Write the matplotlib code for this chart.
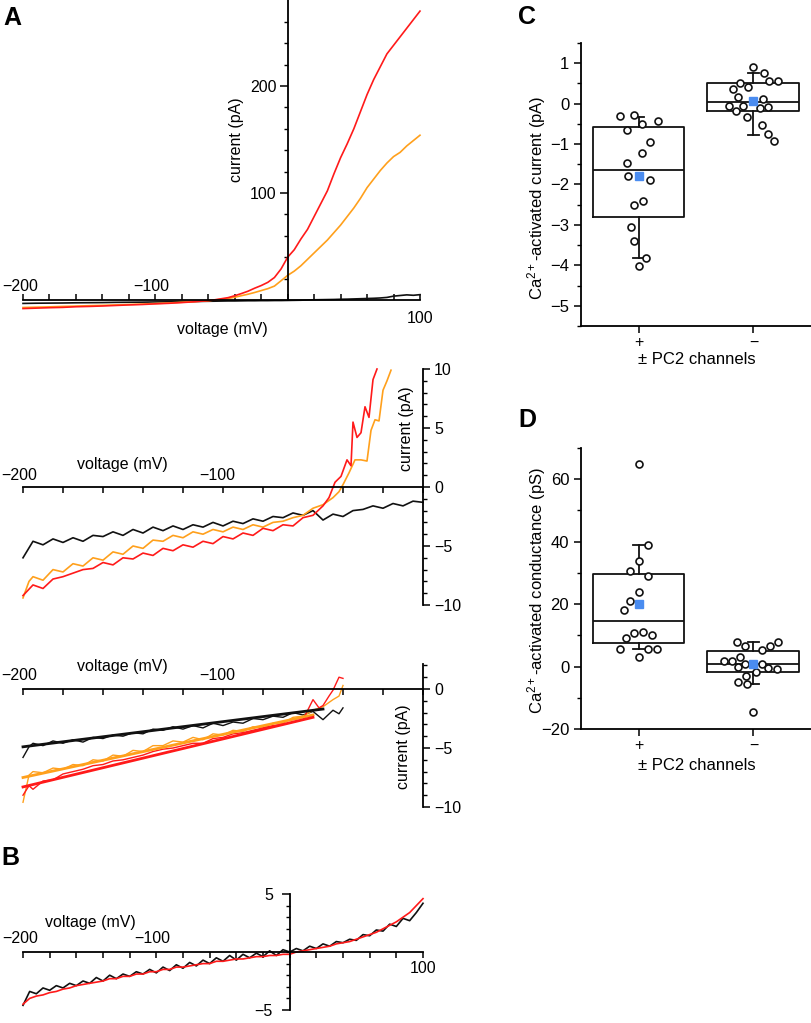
import matplotlib
matplotlib.use('Agg')
import matplotlib.pyplot as plt
import numpy as np
from matplotlib.ticker import MultipleLocator, FixedLocator, NullFormatter

plt.rcParams['font.family'] = ['Liberation Sans', 'DejaVu Sans']
plt.rcParams['font.size'] = 11.5
plt.rcParams['axes.linewidth'] = 1.3
plt.rcParams['mathtext.fontset'] = 'custom'
plt.rcParams['mathtext.rm'] = 'Liberation Sans'
plt.rcParams['mathtext.it'] = 'Liberation Sans:italic'
plt.rcParams['mathtext.bf'] = 'Liberation Sans:bold'

RED = '#ff1a1a'
ORANGE = '#ffa01c'
BLACK = '#111111'
BLUE = '#4a8cf0'

# ---------------- Panel A (top): full I-V ----------------
a1_v = [-200, -190, -180, -170, -160, -150, -140, -130, -120, -110, -100, -90, -80, -70, -60,
        -55, -50, -45, -40, -35, -30, -25, -20, -15, -10, -5, 0, 5, 10, 15, 20, 25, 30, 35, 40,
        45, 50, 55, 60, 65, 70, 75, 80, 85, 90, 95, 100]
a1_red = [-8, -7.6, -7.2, -6.9, -6.3, -6.0, -5.6, -5.1, -4.6, -4.2, -3.6, -3.1, -2.4, -1.6, -0.6,
          0.2, 1.2, 2.2, 4.0, 6.0, 8.2, 11, 13.5, 16.5, 21, 29, 40, 47, 57, 66, 78, 90, 102, 118, 133,
          146, 160, 176, 192, 206, 218, 230, 238, 246, 254, 262, 270]
a1_orange = [-7, -6.7, -6.4, -6.0, -5.7, -5.3, -5.0, -4.6, -4.2, -3.8, -3.3, -2.8, -2.1, -1.4, -0.6,
             0.0, 0.6, 1.4, 2.6, 4.0, 5.4, 7.0, 8.8, 10.6, 13, 18, 23, 27, 32, 38, 44, 50, 56, 63, 70,
             78, 86, 95, 105, 113, 121, 128, 134, 138, 144, 149, 154]
a1_black = [-3.2, -3.0, -2.9, -2.8, -2.6, -2.5, -2.4, -2.2, -2.1, -2.0, -1.8, -1.7, -1.5, -1.4, -1.2,
            -1.1, -1.0, -0.9, -0.9, -0.8, -0.7, -0.7, -0.6, -0.6, -0.5, -0.5, -0.4, -0.3, -0.2, 0.0, 0.2, 0.3, 0.4, 0.5, 0.7,
            0.8, 1.0, 1.2, 1.4, 1.6, 1.9, 2.4, 3.6, 4.2, 4.8, 4.4, 5.0]

# ---------------- Panel A (middle): zoom of negative range ----------------
a2_v_black = list(range(-200, 1, 5))
a2_black = [-6.0, -4.6, -4.9, -4.4, -4.7, -4.3, -4.6, -4.1, -4.2, -3.8, -4.1, -3.6, -3.9, -3.4, -3.7,
            -3.3, -3.6, -3.2, -3.4, -3.0, -3.3, -2.9, -3.1, -2.7, -2.9, -2.5, -2.6, -2.2, -2.4, -2.0,
            -2.8, -2.3, -2.5, -2.0, -1.9, -1.6, -1.8, -1.4, -1.6, -1.2, -1.3]
a2_v_red = [-200, -195, -190, -185, -180, -175, -170, -165, -160, -155, -150, -145, -140, -135, -130,
            -125, -120, -115, -110, -105, -100, -95, -90, -85, -80, -75, -70, -65, -60, -55, -50,
            -47, -44, -41, -38, -36, -35, -33, -31, -29, -27, -25, -23]
a2_red = [-9.2, -8.3, -8.6, -7.8, -7.6, -7.3, -7.0, -6.9, -6.4, -6.6, -6.0, -6.1, -5.6, -5.8, -5.2,
          -5.4, -4.9, -5.1, -4.6, -4.8, -4.2, -4.4, -3.9, -4.1, -3.5, -3.7, -3.2, -3.3, -2.6, -2.4, -1.6,
          -0.9, 0.4, 0.9, 2.3, 1.8, 5.5, 4.2, 4.6, 6.8, 5.9, 9.1, 10.0]
a2_v_orange = [-200, -197, -195, -190, -185, -180, -175, -170, -165, -160, -155, -150, -145, -140, -135,
               -130, -125, -120, -115, -110, -105, -100, -95, -90, -85, -80, -75, -70, -65, -60, -55,
               -50, -45, -42, -40, -37, -34, -31, -28, -26, -24, -22, -20, -18, -16]
a2_orange = [-9.4, -8.0, -7.6, -7.9, -7.0, -7.2, -6.5, -6.7, -6.0, -6.2, -5.5, -5.7, -5.0, -5.2, -4.5,
             -4.6, -4.1, -4.3, -3.8, -4.0, -3.6, -3.8, -3.4, -3.6, -3.2, -3.4, -3.0, -2.9, -2.6, -2.4, -1.8,
             -1.5, -0.9, -0.4, 0.2, 1.2, 2.3, 2.3, 2.2, 4.8, 5.7, 5.6, 8.2, 9.0, 9.9]

# ---------------- Panel A (bottom): traces with linear fits ----------------
a3_v = [-200, -197, -195, -190, -185, -180, -175, -170, -165, -160, -155, -150, -145, -140, -135,
        -130, -125, -120, -115, -110, -105, -100, -95, -90, -85, -80, -75, -70, -65, -60, -55,
        -50, -45, -42, -40]
a3_black = [-5.8, -4.9, -4.6, -4.8, -4.4, -4.6, -4.3, -4.5, -4.1, -4.2, -3.9, -4.0, -3.7, -3.8, -3.4,
            -3.5, -3.2, -3.4, -3.1, -3.3, -2.9, -3.1, -2.8, -2.9, -2.5, -2.6, -2.3, -2.4, -2.0, -2.2, -1.9,
            -2.6, -1.8, -2.1, -1.6]
a3_orange = [-9.6, -7.3, -7.0, -7.1, -6.7, -6.8, -6.4, -6.5, -6.0, -6.1, -5.6, -5.7, -5.2, -5.3, -4.8,
             -4.8, -4.4, -4.5, -4.1, -4.3, -3.8, -3.9, -3.5, -3.6, -3.2, -3.3, -2.9, -2.9, -2.4, -2.3, -1.8,
             -1.5, -0.9, -0.6, 0.3]
a3_v_red = [-200, -197, -195, -190, -185, -180, -175, -170, -165, -160, -155, -150, -145, -140, -135,
            -130, -125, -120, -115, -110, -105, -100, -95, -90, -85, -80, -75, -70, -65, -60, -55,
            -52, -50, -47, -45, -42, -40]
a3_red = [-9.0, -8.2, -8.5, -7.8, -7.7, -7.2, -7.0, -6.8, -6.5, -6.4, -6.1, -6.0, -5.8, -5.6, -5.3,
          -5.1, -5.0, -4.8, -4.6, -4.6, -4.2, -4.1, -3.8, -3.7, -3.5, -3.3, -3.1, -3.0, -2.8, -2.6, -0.9,
          -1.6, -1.4, -0.6, -0.1, 1.0, 0.9]
fit_black_v = [-200, -50]
fit_black_i = [-4.9, -1.7]
fit_orange_v = [-200, -55]
fit_orange_i = [-7.5, -2.2]
fit_red_v = [-200, -55]
fit_red_i = [-8.3, -2.4]

# ---------------- Panel B ----------------
b_v = list(range(-200, 101, 5))
b_black = [-4.6, -3.4, -3.6, -3.1, -3.3, -2.9, -3.1, -2.7, -2.9, -2.5, -2.7, -2.2, -2.5, -2.0, -2.3,
           -1.9, -2.1, -1.7, -1.9, -1.5, -1.8, -1.3, -1.6, -1.1, -1.4, -0.9, -1.2, -0.7, -1.0, -0.5,
           -0.8, -0.3, -0.7, -0.2, -0.5, -0.1, -0.4, 0.1, -0.3, 0.2, 0.0, 0.3, 0.1, 0.5, 0.3, 0.7,
           0.5, 0.9, 0.8, 1.1, 1.0, 1.5, 1.4, 1.9, 1.8, 2.4, 2.2, 2.9, 2.7, 3.4, 4.2]
b_red = [-4.5, -4.0, -3.8, -3.7, -3.5, -3.4, -3.2, -3.1, -2.9, -2.8, -2.7, -2.6, -2.5, -2.3, -2.3,
         -2.1, -2.1, -1.9, -1.9, -1.7, -1.7, -1.5, -1.5, -1.3, -1.3, -1.2, -1.1, -1.0, -1.0, -0.8,
         -0.8, -0.7, -0.6, -0.6, -0.5, -0.4, -0.4, -0.3, -0.3, -0.2, -0.2, 0.0, 0.1, 0.2, 0.3, 0.4,
         0.5, 0.7, 0.8, 0.9, 1.1, 1.3, 1.5, 1.7, 2.0, 2.3, 2.6, 3.0, 3.4, 4.0, 4.6]

# ---------------- Panel C: Ca2+-activated current ----------------
c_plus = [-0.31, -0.27, -0.50, -0.44, -0.65, -0.96, -1.22, -1.48, -1.80, -1.88, -2.51, -2.41,
          -3.06, -3.40, -3.81, -4.01]
c_plus_jit = [-0.165, -0.035, 0.032, 0.168, -0.101, 0.101, 0.032, -0.101, -0.093, 0.101, -0.035,
              0.038, -0.064, -0.043, 0.067, 0.0]
c_minus = [0.90, 0.76, 0.50, 0.40, 0.55, 0.55, 0.35, 0.17, 0.12, -0.05, -0.07, -0.17, -0.11, -0.09,
           -0.34, -0.54, -0.75, -0.93]
c_minus_jit = [0.0, 0.087, -0.119, -0.049, 0.136, 0.217, -0.177, -0.136, 0.084, -0.212, -0.090,
               -0.148, 0.058, 0.130, -0.058, 0.070, 0.130, 0.174]
c_stats = [dict(q1=-2.80, q3=-0.57, med=-1.65, whislo=-3.82, whishi=-0.32, mean=-1.78),
           dict(q1=-0.19, q3=0.50, med=0.03, whislo=-0.78, whishi=0.76, mean=0.06)]

# ---------------- Panel D: Ca2+-activated conductance ----------------
d_plus = [65.0, 38.9, 33.8, 30.7, 29.0, 24.0, 21.1, 18.1, 9.1, 10.7, 11.2, 10.0, 5.6, 5.5, 5.6, 3.0]
d_plus_jit = [0.0, 0.081, 0.0, -0.078, 0.081, 0.0, -0.078, -0.122, -0.107, -0.041, 0.041, 0.119,
              -0.157, 0.081, 0.159, 0.0]
d_minus = [8.0, 6.7, 8.0, 6.7, 5.3, 1.8, 1.8, 3.2, 0.0, 0.75, 0.75, -0.5, -0.7, -1.8, -2.9, -4.8,
           -5.6, -14.6]
d_minus_jit = [-0.145, -0.078, 0.209, 0.145, 0.072, -0.255, -0.183, -0.119, -0.139, -0.078, 0.078,
               0.130, 0.203, 0.020, -0.061, -0.136, -0.058, 0.0]
d_stats = [dict(q1=7.5, q3=29.8, med=14.7, whislo=5.5, whishi=38.9, mean=20.0),
           dict(q1=-1.8, q3=5.1, med=0.75, whislo=-5.6, whishi=7.8, mean=0.7)]

group_labels = ['+', '\u2212']

W, H = 812, 1023
fig = plt.figure(figsize=(W / 100, H / 100), dpi=100)

FS = 11.5


def ax_px(x0, y0, w, h):
    return fig.add_axes([x0 / W, 1 - (y0 + h) / H, w / W, h / H])


def ftext(x, y, s, **kw):
    fig.text(x / W, 1 - y / H, s, ha='center', va='center', **kw)


def xlab(ax, v, s, dy):
    ax.annotate(s, xy=(v, 0), xycoords='data', xytext=(0, dy), textcoords='offset points',
                ha='center', va='center', fontsize=FS)


LW = 1.2

# ---- A top ----
ax = ax_px(23 - 3 * 1.3233, 0.4, 306 * 1.3233, 292 * 1.07)
ax.set_xlim(-203, 103)
ax.set_ylim(-12, 280)
ax.plot(a1_v, a1_black, color=BLACK, lw=LW)
ax.plot(a1_v, a1_orange, color=ORANGE, lw=LW)
ax.plot(a1_v, a1_red, color=RED, lw=LW)
for s in ['top', 'right']:
    ax.spines[s].set_visible(False)
ax.spines['left'].set_position(('data', 0))
ax.spines['bottom'].set_position(('data', 0))
ax.spines['left'].set_bounds(0, 280)
ax.spines['bottom'].set_bounds(-200, 100)
ax.set_xticks(np.arange(-200, 101, 20))
ax.xaxis.set_major_formatter(NullFormatter())
ax.tick_params(axis='x', direction='in', length=4, width=1.1)
ax.set_yticks([100, 200])
ax.yaxis.set_minor_locator(FixedLocator(np.arange(20, 280, 20)))
ax.tick_params(axis='y', which='major', direction='out', length=6, width=1.1, labelsize=FS, pad=2)
ax.tick_params(axis='y', which='minor', direction='out', length=3, width=1.0)
ax.patch.set_alpha(0)
xlab(ax, -202, '\u2212200', 10)
xlab(ax, -103, '\u2212100', 10)
xlab(ax, 100, '100', -13)
ftext(237, 140, 'current (pA)', rotation=90, fontsize=FS)
ftext(222, 330, 'voltage (mV)', fontsize=FS)

# ---- A middle ----
ax = ax_px(19, 487 - 10.5 * 11.8, 412, 21 * 11.8)
ax.set_xlim(-202, 4)
ax.set_ylim(-10.5, 10.5)
ax.plot(a2_v_black, a2_black, color=BLACK, lw=LW)
ax.plot(a2_v_orange, a2_orange, color=ORANGE, lw=LW)
ax.plot(a2_v_red, a2_red, color=RED, lw=LW)
for s in ['top', 'left']:
    ax.spines[s].set_visible(False)
ax.spines['right'].set_position(('data', 0))
ax.spines['bottom'].set_position(('data', 0))
ax.spines['right'].set_bounds(-10, 10)
ax.spines['bottom'].set_bounds(-200, 0)
ax.yaxis.set_ticks_position('right')
ax.set_yticks([-10, -5, 0, 5, 10])
ax.yaxis.set_minor_locator(MultipleLocator(1))
ax.tick_params(axis='y', which='major', direction='out', length=5, width=1.1, labelsize=FS, pad=3)
ax.tick_params(axis='y', which='minor', direction='out', length=3, width=1.0)
ax.set_xticks(np.arange(-200, 1, 20))
ax.xaxis.set_major_formatter(NullFormatter())
ax.tick_params(axis='x', direction='out', length=4, width=1.1)
ax.patch.set_alpha(0)
xlab(ax, -202, '\u2212200', 8)
xlab(ax, -103, '\u2212100', 8)
ftext(407, 429, 'current (pA)', rotation=90, fontsize=FS)
ftext(122, 465, 'voltage (mV)', fontsize=FS)

# ---- A bottom ----
ax = ax_px(19, 689 - 2.5 * 11.8, 412, 13 * 11.8)
ax.set_xlim(-202, 4)
ax.set_ylim(-10.5, 2.5)
ax.plot(a3_v, a3_black, color=BLACK, lw=1.0)
ax.plot(a3_v, a3_orange, color=ORANGE, lw=1.0)
ax.plot(a3_v_red, a3_red, color=RED, lw=1.0)
ax.plot(fit_black_v, fit_black_i, color=BLACK, lw=2.0)
ax.plot(fit_orange_v, fit_orange_i, color=ORANGE, lw=2.0)
ax.plot(fit_red_v, fit_red_i, color=RED, lw=2.0)
for s in ['top', 'left']:
    ax.spines[s].set_visible(False)
ax.spines['right'].set_position(('data', 0))
ax.spines['bottom'].set_position(('data', 0))
ax.spines['right'].set_bounds(-10, 2.1)
ax.spines['bottom'].set_bounds(-200, 0)
ax.yaxis.set_ticks_position('right')
ax.set_yticks([-10, -5, 0])
ax.yaxis.set_minor_locator(FixedLocator(np.arange(-9, 3, 1)))
ax.tick_params(axis='y', which='major', direction='out', length=5, width=1.1, labelsize=FS, pad=3)
ax.tick_params(axis='y', which='minor', direction='out', length=3, width=1.0)
ax.set_xticks(np.arange(-200, 1, 20))
ax.xaxis.set_major_formatter(NullFormatter())
ax.tick_params(axis='x', direction='out', length=4, width=1.1)
ax.patch.set_alpha(0)
xlab(ax, -202, '\u2212200', 9.5)
xlab(ax, -103, '\u2212100', 9.5)
ftext(404, 747, 'current (pA)', rotation=90, fontsize=FS)
ftext(122, 666, 'voltage (mV)', fontsize=FS)

# ---- B ----
ax = ax_px(19, 952 - 5.5 * 11.6, 408, 11 * 11.6)
ax.set_xlim(-203, 103)
ax.set_ylim(-5.5, 5.5)
ax.plot(b_v, b_black, color=BLACK, lw=LW)
ax.plot(b_v, b_red, color=RED, lw=LW)
for s in ['top', 'right']:
    ax.spines[s].set_visible(False)
ax.spines['left'].set_position(('data', 0))
ax.spines['bottom'].set_position(('data', 0))
ax.spines['left'].set_bounds(-5, 5)
ax.spines['bottom'].set_bounds(-200, 100)
ax.set_yticks([-5, 5])
ax.yaxis.set_minor_locator(FixedLocator(np.arange(-4, 5, 1)))
ax.tick_params(axis='y', which='major', direction='out', length=6, width=1.1, labelsize=FS, pad=6)
ax.tick_params(axis='y', which='minor', direction='out', length=3, width=1.0)
ax.set_xticks(np.arange(-200, 101, 20))
ax.xaxis.set_major_formatter(NullFormatter())
ax.tick_params(axis='x', direction='out', length=4, width=1.1)
ax.patch.set_alpha(0)
xlab(ax, -202, '\u2212200', 10)
xlab(ax, -103, '\u2212100', 10)
xlab(ax, 100, '100', -12)
ftext(90, 922, 'voltage (mV)', fontsize=FS)


# ---- C and D ----
def box_panel(ax, stats, g1, j1, g2, j2):
    bst = []
    for st in stats:
        d = dict(st)
        d['fliers'] = []
        bst.append(d)
    ax.bxp(bst, positions=[1, 2], widths=0.8, showfliers=False, showmeans=False,
           boxprops=dict(color=BLACK, lw=1.3), medianprops=dict(color=BLACK, lw=1.3),
           whiskerprops=dict(color=BLACK, lw=1.3), capprops=dict(color=BLACK, lw=1.3),
           capwidths=0.09)
    ax.plot(1 + np.array(j1), g1, 'o', ms=5, mfc='white', mec=BLACK, mew=1.2, zorder=3)
    ax.plot(2 + np.array(j2), g2, 'o', ms=5, mfc='white', mec=BLACK, mew=1.2, zorder=3)
    ax.plot([1, 2], [st['mean'] for st in stats], 's', ms=5.5, color=BLUE, zorder=4)
    ax.set_xlim(0.5, 2.5)
    ax.set_xticks([1, 2])
    ax.set_xticklabels(group_labels, fontsize=11.5)
    for s in ['top', 'right']:
        ax.spines[s].set_visible(False)
    ax.tick_params(axis='y', which='major', direction='out', length=5, width=1.1, labelsize=12)
    ax.tick_params(axis='x', which='major', direction='out', length=5, width=1.1, pad=1.5)
    ax.tick_params(axis='y', which='minor', direction='out', length=3, width=1.0)


axc = ax_px(581, 43, 230, 283)
box_panel(axc, c_stats, c_plus, c_plus_jit, c_minus, c_minus_jit)
axc.set_ylim(-5.5, 1.5)
axc.set_yticks(np.arange(-5, 2, 1))
axc.yaxis.set_minor_locator(MultipleLocator(0.5))
ftext(537, 198, 'Ca$^{\\mathregular{2+}}$-activated current (pA)', rotation=90, fontsize=12)
ftext(697, 360, '\u00b1 PC2 channels', fontsize=12)

axd = ax_px(581, 448, 230, 281)
box_panel(axd, d_stats, d_plus, d_plus_jit, d_minus, d_minus_jit)
axd.set_ylim(-20, 70)
axd.set_yticks(np.arange(-20, 61, 20))
axd.yaxis.set_minor_locator(MultipleLocator(10))
ftext(537, 590, 'Ca$^{\\mathregular{2+}}$-activated conductance (pS)', rotation=90, fontsize=12)
ftext(697, 765, '\u00b1 PC2 channels', fontsize=12)

# ---- panel letters ----
for (x, y, s) in [(12, 18, 'A'), (527, 17, 'C'), (527, 420, 'D'), (10, 858, 'B')]:
    ftext(x, y, s, fontsize=18, fontweight='bold')

fig.savefig('out.png', dpi=100)
